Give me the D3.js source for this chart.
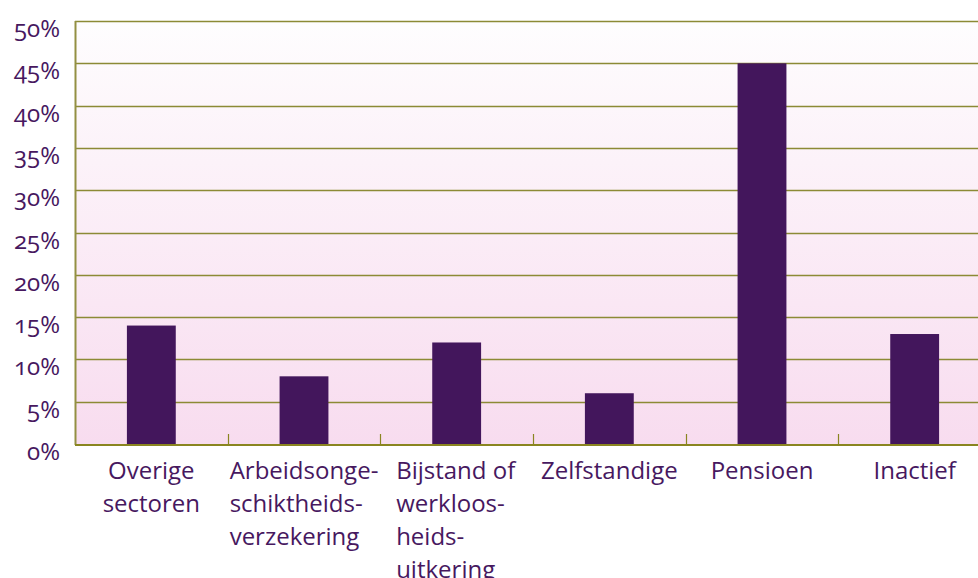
<!DOCTYPE html>
<html><head><meta charset="utf-8">
<script src="https://cdn.jsdelivr.net/npm/d3@7"></script>
<style>
html,body{margin:0;padding:0;background:#fff;overflow:hidden}
svg text{font-family:"Open Sans",sans-serif;fill:#47185f;font-variant-numeric:oldstyle-nums;font-feature-settings:"onum" 1}
</style></head><body>
<svg id="c" width="978" height="578"></svg>
<script>
const categories = ["Overige sectoren","Arbeidsongeschiktheidsverzekering","Bijstand of werkloosheidsuitkering","Zelfstandige","Pensioen","Inactief"];
const labelLines = [["Overige","sectoren"],["Arbeidsonge-","schiktheids-","verzekering"],["Bijstand of","werkloos-","heids-","uitkering"],["Zelfstandige"],["Pensioen"],["Inactief"]];
const values = [14, 8, 12, 6, 45, 13];
const yTicks = [0,5,10,15,20,25,30,35,40,45,50];

const svg = d3.select("#c");
const m = {left:75, top:21, bottom:444, right:991};
const x = d3.scaleBand().domain(categories).range([m.left, m.right]).paddingInner(0.68).paddingOuter(0.34);
const xb = d3.scaleBand().domain(categories).range([m.left, m.right]);
const y = d3.scaleLinear().domain([0,50]).range([m.bottom, m.top]);

const defs = svg.append("defs");
const g = defs.append("linearGradient").attr("id","bg").attr("x1",0).attr("y1",0).attr("x2",0).attr("y2",1);
g.append("stop").attr("offset","0%").attr("stop-color","#fefdfe");
g.append("stop").attr("offset","100%").attr("stop-color","#f8dcef");
svg.append("rect").attr("x",m.left).attr("y",m.top).attr("width",m.right-m.left).attr("height",m.bottom-m.top).attr("fill","url(#bg)");

// gridlines
svg.append("g").selectAll("line").data(yTicks.filter(d=>d>0)).join("line")
  .attr("x1",m.left).attr("x2",m.right)
  .attr("y1",d=>Math.round(y(d))+0.5).attr("y2",d=>Math.round(y(d))+0.5)
  .attr("stroke","#8c8a35").attr("stroke-width",1.6);

// bars
svg.append("g").selectAll("rect").data(values).join("rect")
  .attr("x",(d,i)=>x(categories[i])).attr("width",x.bandwidth())
  .attr("y",d=>y(d)).attr("height",d=>y(0)-y(d)).attr("fill","#43165c");

// y axis line
svg.append("line").attr("x1",m.left+0.5).attr("x2",m.left+0.5).attr("y1",m.top).attr("y2",m.bottom+1)
  .attr("stroke","#939043").attr("stroke-width",2);
// x axis line
svg.append("line").attr("x1",m.left).attr("x2",m.right).attr("y1",m.bottom+1).attr("y2",m.bottom+1)
  .attr("stroke","#8a8520").attr("stroke-width",2);
// x ticks at boundaries
svg.append("g").selectAll("line").data(categories.slice(1)).join("line")
  .attr("x1",d=>Math.round(xb(d))+0.5).attr("x2",d=>Math.round(xb(d))+0.5)
  .attr("y1",m.bottom).attr("y2",m.bottom-10)
  .attr("stroke","#8a8520").attr("stroke-width",1.2);

// y tick labels
svg.append("g").selectAll("text").data(yTicks).join("text")
  .attr("x",60).attr("y",d=>y(d)+16).attr("text-anchor","end")
  .attr("font-size",24).text(d=>d+"%");

// x labels
const lg = svg.append("g");
labelLines.forEach((lines,i)=>{
  const cx = xb(categories[i]) + xb.bandwidth()/2;
  const grp = lg.append("g");
  const center = (i===0 || lines.length===1);
  lines.forEach((l,j)=>grp.append("text").attr("font-size",24).attr("x",0).attr("y",479+33*j)
     .attr("text-anchor", center ? "middle" : "start").text(l));
  const bb = grp.node().getBBox();
  const dx = center ? cx : cx - bb.width/2;
  grp.attr("transform",`translate(${dx},0)`);
});
</script>
</body></html>
